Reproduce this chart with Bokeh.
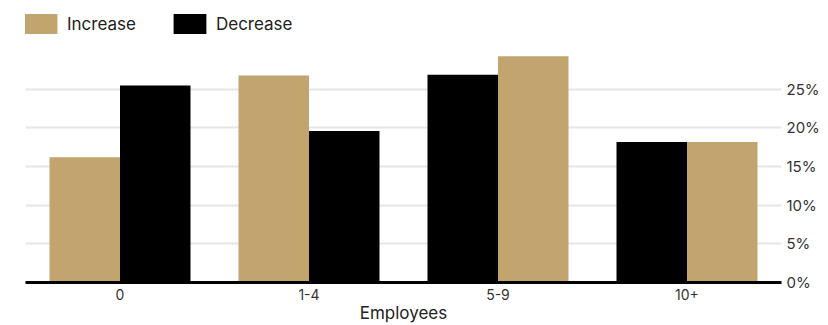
from bokeh.plotting import figure
from bokeh.models import (ColumnDataSource, FactorRange, Legend, LegendItem,
                          LinearAxis, FixedTicker, PrintfTickFormatter, Range1d)
from bokeh.embed import file_html
from bokeh.resources import INLINE

# ---- data ----
categories = ["0", "1-4", "5-9", "10+"]
increase = [16.2, 26.8, 29.3, 18.2]
decrease = [25.5, 19.6, 26.9, 18.2]
first_series = ["Increase", "Increase", "Decrease", "Decrease"]   # left bar in each group
series_names = ["Increase", "Decrease"]
y_ticks = [0, 5, 10, 15, 20, 25]

TAN = "#c2a46f"
BLACK = "#000000"
FONT = "Inter"
TEXT = "#333333"

BAR_W = 0.373  # bar width as a fraction of one category


def positions(name):
    # categorical offset: left bar at -w/2, right bar at +w/2
    return [(c, -BAR_W / 2 if f == name else BAR_W / 2)
            for c, f in zip(categories, first_series)]


# frame reaches the top of the canvas so the legend can sit in its empty top part
p = figure(x_range=FactorRange(*categories, range_padding=0),
           y_range=Range1d(0, 36.5),
           frame_width=756, frame_height=282,
           output_backend="svg", toolbar_location=None,
           y_axis_location=None)
p.min_border = 0
p.min_border_left = 25
p.outline_line_color = None
p.background_fill_color = "white"

src_inc = ColumnDataSource(dict(x=positions("Increase"), top=increase))
src_dec = ColumnDataSource(dict(x=positions("Decrease"), top=decrease))

r_inc = p.vbar(x="x", top="top", width=BAR_W, source=src_inc,
               fill_color=TAN, line_color=None)
r_dec = p.vbar(x="x", top="top", width=BAR_W, source=src_dec,
               fill_color=BLACK, line_color=None)

# grid
p.xgrid.grid_line_color = None
p.ygrid.ticker = FixedTicker(ticks=y_ticks)
p.ygrid.grid_line_color = "#e6e6e6"
p.ygrid.grid_line_width = 2

# right axis
yax = LinearAxis(ticker=FixedTicker(ticks=y_ticks),
                 formatter=PrintfTickFormatter(format="%d%%"))
yax.axis_line_color = None
yax.major_tick_line_color = None
yax.minor_tick_line_color = None
yax.major_tick_out = 0
yax.major_tick_in = 0
yax.minor_tick_out = 0
yax.major_label_standoff = 5
yax.major_label_text_font = FONT
yax.major_label_text_font_size = "15px"
yax.major_label_text_color = TEXT
p.add_layout(yax, "right")

# x axis
xax = p.xaxis[0]
xax.axis_line_color = BLACK
xax.axis_line_width = 3
xax.major_tick_line_color = None
xax.minor_tick_line_color = None
xax.major_tick_out = 0
xax.major_tick_in = 0
xax.minor_tick_out = 0
xax.major_label_standoff = 6
xax.major_label_text_font = FONT
xax.major_label_text_font_size = "14px"
xax.major_label_text_color = TEXT
xax.axis_label = "Employees"
xax.axis_label_text_font = FONT
xax.axis_label_text_font_size = "17px"
xax.axis_label_text_font_style = "normal"
xax.axis_label_text_color = "#222222"
xax.axis_label_standoff = 0

legend = Legend(items=[LegendItem(label=series_names[0], renderers=[r_inc]),
                       LegendItem(label=series_names[1], renderers=[r_dec])],
                orientation="horizontal", location=(-5, 246),
                glyph_width=41, glyph_height=25, label_height=25,
                label_standoff=6, spacing=33, padding=0, margin=0,
                border_line_color=None, background_fill_alpha=0,
                label_text_font=FONT, label_text_font_size="17px",
                label_text_color="#222222")
p.add_layout(legend, "center")

open("out.html", "w").write(file_html(p, INLINE))
